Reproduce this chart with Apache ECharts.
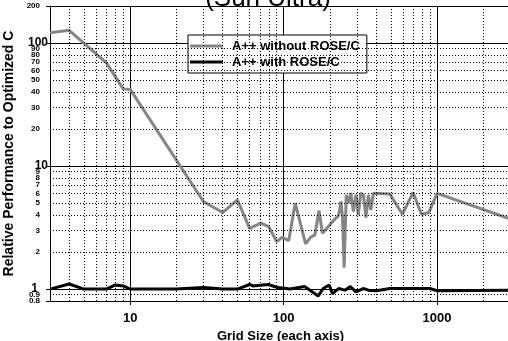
<!DOCTYPE html>
<html>
<head>
<meta charset="utf-8">
<script src="https://cdn.jsdelivr.net/npm/echarts@6/dist/echarts.min.js"></script>
<style>html,body{margin:0;padding:0;background:#fff;}#c{width:508px;height:341px;}</style>
</head>
<body>
<div id="c"></div>
<script>
// Grid size (each axis) vs relative performance
const withoutRose = [
  [3,121],[4,127],[7,69],[9,42.4],[10,42],[30,5.15],[40,4.19],[50,5.3],[60,3.12],
  [71,3.43],[80,3.22],[90,2.43],[98,2.64],[108,2.48],[119,5.0],[139,2.33],[150,2.64],
  [160,2.76],[170,4.35],[179,2.84],[218,3.77],[226,3.88],[232,4.4],[236,5.15],[242,3.88],
  [248,1.49],[256,5.84],[265,4.99],[274,6.03],[285,4.27],[296,5.84],[307,4.0],[318,6.03],
  [331,5.84],[344,3.81],[357,5.84],[370,4.4],[385,6.0],[492,5.94],[594,4.06],[698,6.1],
  [791,4.06],[883,4.19],[1000,6.0],[4096,3.24]
];
const withRose = [
  [3,1.0],[4,1.1],[5,1.0],[7,1.0],[8,1.08],[9,1.06],[10,1.0],[20,1.0],[30,1.03],[40,1.0],
  [50,1.0],[60,1.09],[63,1.06],[79,1.09],[92,1.03],[110,1.0],[137,1.05],[168,0.88],[181,1.01],
  [198,1.08],[208,0.92],[228,1.01],[251,0.98],[272,1.05],[296,0.95],[330,1.01],[357,0.98],
  [403,0.97],[492,1.01],[898,1.01],[1000,0.97],[4096,0.98]
];
const seriesNames = ['A++ without ROSE/C', 'A++ with ROSE/C'];
const yMinorGrid = [0.9,2,3,4,5,6,7,8,9,20,30,40,50,60,70,80,90];
const xMinorGrid = [4,5,6,7,8,9,20,30,40,50,60,70,80,90,200,300,400,500,600,700,800,900,2000,3000,4000];
const titleText = '(Sun Ultra)';
const xName = 'Grid Size (each axis)';
const yName = 'Relative Performance to Optimized C';

const FONT = 'Liberation Sans, Arial, sans-serif';
const chart = echarts.init(document.getElementById('c'), null, {renderer: 'canvas'});

const gridMarks = [];
yMinorGrid.forEach(v => gridMarks.push({
  yAxis: v,
  label: {show: true, position: 'start', formatter: String(v), fontSize: 8, fontWeight: 'bold',
          color: '#000', fontFamily: FONT, distance: 10}
}));
xMinorGrid.forEach(v => gridMarks.push({xAxis: v, label: {show: false}}));

chart.setOption({
  animation: false,
  backgroundColor: '#fff',
  title: {
    text: titleText, left: 263, top: -19, textAlign: 'center',
    textStyle: {fontSize: 26, fontWeight: 'normal', color: '#000', fontFamily: FONT}
  },
  legend: {
    data: seriesNames,
    orient: 'vertical', left: 188, top: 35,
    backgroundColor: '#fff', borderColor: '#000', borderWidth: 1,
    padding: [4, 7, 4, 2], itemGap: 2,
    itemWidth: 33, itemHeight: 3, icon: 'rect',
    textStyle: {fontSize: 13, fontWeight: 'bold', color: '#000', fontFamily: FONT, lineHeight: 14, padding: [0,0,0,4]}
  },
  grid: {left: 50, top: 6, bottom: 40, right: -23, containLabel: false, outerBoundsMode: 'none'},
  xAxis: {
    type: 'log', logBase: 10, min: 3, max: 4096,
    name: xName, nameLocation: 'middle', nameGap: 25,
    nameTextStyle: {fontSize: 13, fontWeight: 'bold', color: '#000', fontFamily: FONT, padding: [0, 20, 0, 0]},
    axisLine: {show: true, lineStyle: {color: '#000', width: 1}},
    axisTick: {show: true, inside: false, length: 4, lineStyle: {color: '#000'}},
    axisLabel: {
      show: true, margin: 11, fontSize: 13, fontWeight: 'bold', color: '#000', fontFamily: FONT,
      showMinLabel: false, showMaxLabel: false,
      formatter: v => { const r = Math.round(v); return (r === 10 || r === 100 || r === 1000) ? String(r) : ''; }
    },
    splitLine: {show: true, lineStyle: {color: '#000', width: 1, type: 'solid'}},
    minorTick: {show: false}, minorSplitLine: {show: false}
  },
  yAxis: {
    type: 'log', logBase: 10, min: 0.8, max: 200,
    name: yName, nameLocation: 'middle', nameGap: 32, nameRotate: 90,
    nameTextStyle: {fontSize: 14, fontWeight: 'bold', color: '#000', fontFamily: FONT},
    axisLine: {show: true, lineStyle: {color: '#000', width: 1}},
    axisTick: {show: true, inside: false, length: 4, lineStyle: {color: '#000'}},
    axisLabel: {
      show: true, margin: 2, color: '#000', fontFamily: FONT,
      showMinLabel: true, showMaxLabel: true,
      formatter: v => {
        const r = Math.round(v * 10) / 10;
        if (r === 100 || r === 10) return '{big|' + r + '}';
        if (r === 1) return '{one|1}';
        return '{small|' + r + '}';
      },
      rich: {
        big: {fontSize: 12, fontWeight: 'bold', color: '#000', fontFamily: FONT},
        one: {fontSize: 12, fontWeight: 'bold', color: '#000', fontFamily: FONT, padding: [0, 10, 0, 0]},
        small: {fontSize: 8, fontWeight: 'bold', color: '#000', fontFamily: FONT, padding: [0, 8, 0, 0]}
      }
    },
    splitLine: {show: true, lineStyle: {color: '#000', width: 1, type: 'solid'}},
    minorTick: {show: false}, minorSplitLine: {show: false}
  },
  series: [
    {
      name: 'grid', type: 'line', data: [], z: 1, silent: true,
      markLine: {
        silent: true, symbol: ['none', 'none'], animation: false,
        lineStyle: {color: '#000', width: 1, type: [1, 2]},
        label: {show: false},
        emphasis: {disabled: true},
        data: gridMarks
      }
    },
    {
      name: seriesNames[0], type: 'line', data: withoutRose, z: 3,
      symbol: 'none', showSymbol: false, clip: true,
      color: '#858585',
      lineStyle: {color: '#858585', width: 3}
    },
    {
      name: seriesNames[1], type: 'line', data: withRose, z: 3,
      symbol: 'none', showSymbol: false, clip: true,
      color: '#000',
      lineStyle: {color: '#000', width: 3}
    }
  ]
});
</script>
</body>
</html>
